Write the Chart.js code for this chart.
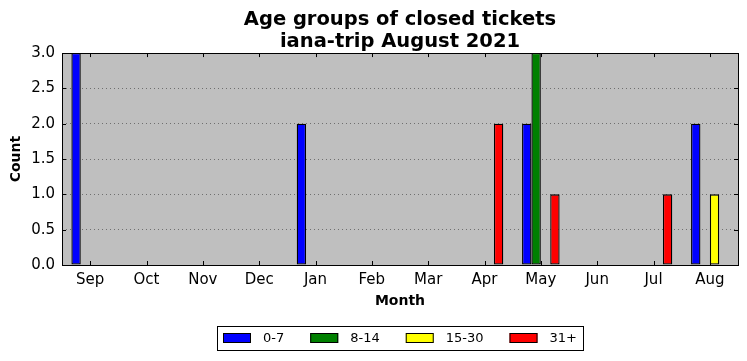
<!DOCTYPE html>
<html><head><meta charset="utf-8">
<script src="https://cdn.jsdelivr.net/npm/chart.js@4/dist/chart.umd.min.js"></script>
<style>html,body{margin:0;padding:0;background:#fff}</style>
</head><body>
<canvas id="c" width="747" height="361" style="display:block;width:747px;height:361px"></canvas>
<script>
const months = ['Sep','Oct','Nov','Dec','Jan','Feb','Mar','Apr','May','Jun','Jul','Aug'];
const age0to7 = [3,0,0,0,2,0,0,0,2,0,0,2];
const age8to14 = [0,0,0,0,0,0,0,0,3,0,0,0];
const age15to30 = [0,0,0,0,0,0,0,0,0,0,0,1];
const age31plus = [0,0,0,0,0,0,0,2,1,0,1,0];
const seriesNames = ['0-7','8-14','15-30','31+'];
const seriesColors = ['#0000ff','#008000','#ffff00','#ff0000'];
const yMin = 0, yMax = 3, yStep = 0.5;

const FONT = 'DejaVu Sans';

const bgPlugin = {
  id: 'bg',
  beforeDraw(chart) {
    const {ctx, chartArea: a} = chart;
    ctx.save();
    ctx.fillStyle = '#bfbfbf';
    ctx.fillRect(a.left, a.top, a.right - a.left, a.bottom - a.top);
    ctx.restore();
  }
};

const framePlugin = {
  id: 'frame',
  afterDatasetsDraw(chart) {
    const {ctx, chartArea: a} = chart;
    const x = chart.scales.x, y = chart.scales.y;
    ctx.save();
    ctx.strokeStyle = '#000';
    ctx.lineWidth = 1;
    const L = 4;
    ctx.beginPath();
    x.ticks.forEach((t, i) => {
      const px = Math.round(x.getPixelForTick(i)) + 0.5;
      ctx.moveTo(px, a.bottom); ctx.lineTo(px, a.bottom - L);
      ctx.moveTo(px, a.top); ctx.lineTo(px, a.top + L);
    });
    y.ticks.forEach((t) => {
      const py = Math.round(y.getPixelForValue(t.value)) + 0.5;
      ctx.moveTo(a.left, py); ctx.lineTo(a.left + L, py);
      ctx.moveTo(a.right, py); ctx.lineTo(a.right - L, py);
    });
    ctx.stroke();
    ctx.strokeRect(Math.round(a.left) + 0.5, Math.round(a.top) + 0.5,
                   Math.round(a.right - a.left), Math.round(a.bottom - a.top));
    ctx.restore();
  }
};

// Legend drawn from the datasets' own labels and colours, framed like the original
const legendPlugin = {
  id: 'boxLegend',
  afterDraw(chart) {
    const ctx = chart.ctx;
    const a = chart.chartArea;
    const ds = chart.data.datasets;
    ctx.save();
    ctx.font = '13px "' + FONT + '"';
    const pad = 6, sw = 28, sh = 10, gapText = 12, gapItem = 26;
    const widths = ds.map(d => ctx.measureText(d.label).width);
    let total = pad * 2;
    widths.forEach((w, i) => { total += sw + gapText + w + (i < widths.length - 1 ? gapItem : 0); });
    const cx = (a.left + a.right) / 2;
    const left = Math.round(cx - total / 2);
    const cy = chart.height - 23;
    ctx.strokeStyle = '#000';
    ctx.lineWidth = 1;
    ctx.strokeRect(left + 0.5, Math.round(cy - 12) + 0.5, Math.round(total), 24);
    let xp = left + pad;
    ds.forEach((d, i) => {
      ctx.fillStyle = d.backgroundColor;
      ctx.fillRect(xp, Math.round(cy - sh / 2), sw, sh);
      ctx.strokeStyle = '#000';
      ctx.strokeRect(xp + 0.5, Math.round(cy - sh / 2) + 0.5, sw - 1, sh - 1);
      ctx.fillStyle = '#000';
      ctx.textBaseline = 'middle';
      ctx.textAlign = 'left';
      ctx.fillText(d.label, xp + sw + gapText, cy + 1);
      xp += sw + gapText + widths[i] + gapItem;
    });
    ctx.restore();
  }
};

const seriesData = [age0to7, age8to14, age15to30, age31plus];

new Chart(document.getElementById('c'), {
  type: 'bar',
  data: {
    labels: months,
    datasets: seriesData.map((d, i) => ({
      label: seriesNames[i],
      data: d,
      backgroundColor: seriesColors[i],
      borderColor: '#000',
      borderWidth: 1.3,
      borderSkipped: false,
      categoryPercentage: 0.667,
      barPercentage: 1.0
    }))
  },
  options: {
    responsive: false,
    animation: false,
    devicePixelRatio: 1,
    layout: { padding: { left: 0, right: 9, top: 4, bottom: 51 } },
    plugins: {
      tooltip: { enabled: false },
      legend: { display: false },
      title: {
        display: true,
        fullSize: false,
        text: ['Age groups of closed tickets', 'iana-trip August 2021'],
        color: '#000',
        font: { family: FONT, size: 19.5, weight: 'bold', lineHeight: 1.13 },
        padding: { top: 5, bottom: 0 }
      }
    },
    scales: {
      x: {
        offset: true,
        grid: { display: false, drawTicks: false },
        border: { display: false },
        ticks: { color: '#000', font: { family: FONT, size: 15 }, padding: 6, maxRotation: 0, autoSkip: false },
        title: { display: true, text: 'Month', color: '#000', font: { family: FONT, size: 14, weight: 'bold' }, padding: { top: 0, bottom: 0 } },
        afterFit(s) { s.height = 45; }
      },
      y: {
        min: yMin, max: yMax,
        grid: { display: true, drawTicks: false, color: '#6f6f6f', lineWidth: 1 },
        border: { display: false, dash: [1, 3] },
        ticks: { stepSize: yStep, color: '#000', font: { family: FONT, size: 15 }, padding: 7,
                 callback: (v) => Number(v).toFixed(1) },
        title: { display: true, text: 'Count', color: '#000', font: { family: FONT, size: 14, weight: 'bold' }, padding: { top: 8, bottom: 0 } },
        afterFit(s) { s.width = 62; }
      }
    }
  },
  plugins: [bgPlugin, framePlugin, legendPlugin]
});
</script>
</body></html>
